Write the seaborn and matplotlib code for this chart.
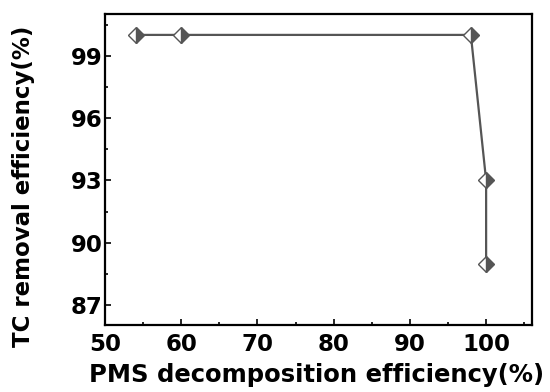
import matplotlib
matplotlib.use("Agg")
import matplotlib.pyplot as plt
import seaborn as sns
import pandas as pd
from matplotlib.ticker import MultipleLocator

pms_decomp = [54, 60, 98, 100, 100]
tc_removal = [100, 100, 100, 93, 89]
x_ticks = [50, 60, 70, 80, 90, 100]
y_ticks = [87, 90, 93, 96, 99]

sns.set_theme(style="ticks")
plt.rcParams['font.family'] = ['DejaVu Sans']
plt.rcParams['font.weight'] = 'bold'
plt.rcParams['text.color'] = 'black'
plt.rcParams['axes.labelcolor'] = 'black'
plt.rcParams['xtick.color'] = 'black'
plt.rcParams['ytick.color'] = 'black'

df = pd.DataFrame({"x": pms_decomp, "y": tc_removal})

fig = plt.figure(figsize=(5.5, 3.92), dpi=100)
ax = fig.add_axes([0.191, 0.171, 0.776, 0.793])

sns.lineplot(data=df, x="x", y="y", ax=ax, sort=False, estimator=None,
             color="#555555", linewidth=1.6, marker="D", markersize=8.5,
             fillstyle="right", markerfacecolor="#555555",
             markerfacecoloralt="white", markeredgecolor="#555555",
             markeredgewidth=1.0)

ax.set_xlim(50, 106)
ax.set_ylim(86.05, 101.0)
ax.set_xticks(x_ticks)
ax.set_yticks(y_ticks)
ax.xaxis.set_minor_locator(MultipleLocator(5))
ax.yaxis.set_minor_locator(MultipleLocator(1.5))
ax.tick_params(which="both", direction="in", top=False, right=False,
               width=1.2, color="black", labelcolor="black")
ax.tick_params(which="major", length=4.5, labelsize=16.5)
ax.tick_params(axis="x", which="major", pad=6)
ax.tick_params(axis="y", which="major", pad=2)
ax.tick_params(which="minor", length=2.5)
for lab in ax.get_xticklabels() + ax.get_yticklabels():
    lab.set_fontweight("bold")
for s in ax.spines.values():
    s.set_visible(True)
    s.set_linewidth(1.6)
    s.set_color("black")

ax.set_xlabel("PMS decomposition efficiency(%)", fontsize=17.5, fontweight="bold", color="black")
ax.set_ylabel("TC removal efficiency(%)", fontsize=16.5, fontweight="bold", color="black")
ax.xaxis.set_label_coords(0.496, -0.122)
ax.yaxis.set_label_coords(-0.165, 0.447)

fig.savefig("out.png", dpi=100)
